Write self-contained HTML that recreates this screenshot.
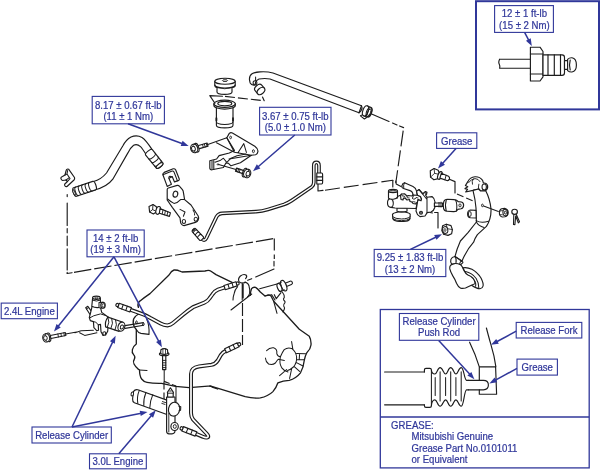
<!DOCTYPE html>
<html><head><meta charset="utf-8"><title>Clutch release system</title>
<style>
html,body{margin:0;padding:0;background:#fff;}
body{width:600px;height:470px;overflow:hidden;font-family:"Liberation Sans",sans-serif;}
svg{display:block;will-change:transform;font-family:"Liberation Sans",sans-serif;}
</style></head><body>
<svg width="600" height="470" viewBox="0 0 600 470">
<g>
<rect x="476" y="1.2" width="123" height="108.2" fill="none" stroke="#30379a" stroke-width="2"/>
<path d="M499.6,59.2 L530.4,59.2 M499.6,68.2 L530.4,68.2 M499.6,59.2 Q498.2,62 499.2,64 Q500.2,66 499.6,68.2" fill="none" stroke="#1c1c1c" stroke-width="1.15" stroke-linecap="round" stroke-linejoin="round" />
<path d="M530.4,47.2 L540,47.2 L543,51.5 L543,76.8 L540,81 L530.4,81 Z" fill="#fff" stroke="#1c1c1c" stroke-width="1.15" stroke-linecap="round" stroke-linejoin="round" />
<path d="M530.4,54 L543,54 M530.4,74 L543,74" fill="none" stroke="#1c1c1c" stroke-width="1.15" stroke-linecap="round" stroke-linejoin="round" />
<path d="M543,54.8 L562,54.8 Q564.5,54.8 564.5,57.5 L564.5,72.8 Q564.5,75.4 562,75.4 L543,75.4 Z" fill="#fff" stroke="#1c1c1c" stroke-width="1.15" stroke-linecap="round" stroke-linejoin="round" />
<path d="M548,54.8 V75.4 M554.3,54.8 V75.4 M560.5,54.8 V75.4" fill="none" stroke="#1c1c1c" stroke-width="1.15" stroke-linecap="round" stroke-linejoin="round" />
<path d="M564.5,60.6 H568 V69.4 H564.5 Z" fill="#fff" stroke="#1c1c1c" stroke-width="1.15" stroke-linecap="round" stroke-linejoin="round" />
<path d="M567.6,59.4 Q569.4,57.6 572,57.8 Q576.4,58.5 576.4,65 Q576.4,71.4 572,72 Q569.4,72.2 567.6,70.6 Z" fill="#fff" stroke="#1c1c1c" stroke-width="1.15" stroke-linecap="round" stroke-linejoin="round" />
<path d="M570.2,60 Q568.8,65 570.2,70" fill="none" stroke="#1c1c1c" stroke-width="1.15" stroke-linecap="round" stroke-linejoin="round" />
<rect x="380.3" y="309.5" width="208.9" height="158.4" fill="none" stroke="#30379a" stroke-width="1.3"/>
<line x1="380.3" y1="417" x2="589.2" y2="417" stroke="#30379a" stroke-width="1.3"/>
<text transform="translate(391.10 428.80) scale(0.95 1)" text-anchor="start" font-size="10.1" fill="#30379a" stroke="#30379a" stroke-width="0.22">GREASE:</text>
<text transform="translate(411.50 439.50) scale(0.95 1)" text-anchor="start" font-size="10.1" fill="#30379a" stroke="#30379a" stroke-width="0.22">Mitsubishi Genuine</text>
<text transform="translate(411.50 451.60) scale(0.95 1)" text-anchor="start" font-size="10.1" fill="#30379a" stroke="#30379a" stroke-width="0.22">Grease Part No.0101011</text>
<text transform="translate(411.50 462.70) scale(0.95 1)" text-anchor="start" font-size="10.1" fill="#30379a" stroke="#30379a" stroke-width="0.22">or Equivalent</text>
<path d="M384.6,372 H424.4 M384.6,404.8 H424.4" fill="none" stroke="#1c1c1c" stroke-width="1.15" stroke-linecap="round" stroke-linejoin="round" />
<path d="M424.4,372 V370.0 Q424.4,368.4 426,368.4 H429.8 Q431.4,368.4 431.4,370.0 Q431.8,374.0 434.9,374.0 C437.1,374.0 437.5,367.6 440.1,367.6 C442.7,367.6 443.4,374.0 445.6,374.0 C447.8,374.0 448.1,367.6 450.7,367.6 C453.3,367.6 453.7,374.0 455.9,374.0 C458.1,374.0 458.6,367.6 461.2,367.6 C464,367.6 464,379.4 466.6,380.4 L468.6,380.4" fill="none" stroke="#1c1c1c" stroke-width="1.15" stroke-linecap="round" stroke-linejoin="round" />
<path d="M424.4,404.8 V405.8 Q424.4,407.4 426,407.4 H429.8 Q431.4,407.4 431.4,405.8 Q431.8,399.8 434.9,399.8 C437.1,399.8 437.5,406.2 440.1,406.2 C442.7,406.2 443.4,399.8 445.6,399.8 C447.8,399.8 448.1,406.2 450.7,406.2 C453.3,406.2 453.7,399.8 455.9,399.8 C458.1,399.8 458.6,406.2 461.2,406.2 C464,406.2 464,390.8 466.6,389.8 L468.6,389.8" fill="none" stroke="#1c1c1c" stroke-width="1.15" stroke-linecap="round" stroke-linejoin="round" />
<path d="M431.4,370 V405.8 M435.2,377.4 V395.4 M440.1,371.8 V401 M445.6,377.4 V395.4 M450.7,371.8 V401 M455.9,377.4 V395.4 M461.2,371.8 V401" fill="none" stroke="#1c1c1c" stroke-width="1.03" stroke-linecap="round" stroke-linejoin="round" />
<path d="M468.6,380.4 H483.4 Q488.4,380.4 488.4,385.1 Q488.4,389.8 483.4,389.8 H468.6" fill="none" stroke="#1c1c1c" stroke-width="1.15" stroke-linecap="round" stroke-linejoin="round" />
<path d="M469.6,342.2 Q475.4,354 479.3,366.9 M486.4,328 Q489,338 490.8,344.2 Q494.4,356 495.9,366.9 M479.3,380.4 V366.9 H495.6 L496.6,394.2 H479.3 V389.8" fill="none" stroke="#1c1c1c" stroke-width="1.15" stroke-linecap="round" stroke-linejoin="round" />
<rect x="399.4" y="313.5" width="79.40" height="26.80" fill="#fff" stroke="#30379a" stroke-width="1.1"/>
<text transform="translate(439.10 324.90) scale(0.95 1)" text-anchor="middle" font-size="10.1" fill="#30379a" stroke="#30379a" stroke-width="0.22">Release Cylinder</text>
<text transform="translate(439.10 336.30) scale(0.95 1)" text-anchor="middle" font-size="10.1" fill="#30379a" stroke="#30379a" stroke-width="0.22">Push Rod</text>
<rect x="516.2" y="322.4" width="65.60" height="15.60" fill="#fff" stroke="#30379a" stroke-width="1.1"/>
<text transform="translate(549.00 334.30) scale(0.95 1)" text-anchor="middle" font-size="10.1" fill="#30379a" stroke="#30379a" stroke-width="0.22">Release Fork</text>
<rect x="517" y="359.1" width="40.40" height="16.00" fill="#fff" stroke="#30379a" stroke-width="1.1"/>
<text transform="translate(537.20 371.20) scale(0.95 1)" text-anchor="middle" font-size="10.1" fill="#30379a" stroke="#30379a" stroke-width="0.22">Grease</text>
<line x1="438.70" y1="340.50" x2="470.06" y2="374.50" stroke="#30379a" stroke-width="1.5"/>
<polygon points="474.40,379.20 467.40,375.59 471.37,371.93" fill="#30379a"/>
<line x1="516.20" y1="331.20" x2="496.63" y2="341.76" stroke="#30379a" stroke-width="1.5"/>
<polygon points="491.00,344.80 496.23,338.91 498.79,343.66" fill="#30379a"/>
<line x1="517.00" y1="368.40" x2="495.02" y2="380.34" stroke="#30379a" stroke-width="1.5"/>
<polygon points="489.40,383.40 494.61,377.49 497.19,382.24" fill="#30379a"/>
<path d="M371.6,114 L389,121.5" fill="none" stroke="#1c1c1c" stroke-width="1.15" stroke-linecap="round" stroke-linejoin="round" />
<path d="M392.5,123 L397,125 M399.5,126 L403.6,127.6" fill="none" stroke="#1c1c1c" stroke-width="1.15" stroke-linecap="round" stroke-linejoin="round" />
<path d="M403.2,130.6 L395.8,183" fill="none" stroke="#1c1c1c" stroke-width="1.15" stroke-dasharray="16 4"/>
<path d="M395.8,181 L396.2,184 L401,186.5" fill="none" stroke="#1c1c1c" stroke-width="1.15" stroke-linecap="round" stroke-linejoin="round" />
<path d="M318,184 V191 L323,190.4" fill="none" stroke="#1c1c1c" stroke-width="1.15" stroke-linecap="round" stroke-linejoin="round" />
<path d="M325,190.2 L392.8,180.2" fill="none" stroke="#1c1c1c" stroke-width="1.15" stroke-dasharray="15 4"/>
<path d="M392.8,180.2 V187" fill="none" stroke="#1c1c1c" stroke-width="1.15" stroke-linecap="round" stroke-linejoin="round" />
<path d="M67.2,194.6 V196.6 M67.2,203 V225.4 M67.2,228.6 V232.8 M67.2,236 V245.6 M67.2,248.8 V270 M67.2,272.2 V273.5" fill="none" stroke="#1c1c1c" stroke-width="1.15" stroke-linecap="round" stroke-linejoin="round" />
<path d="M67.2,273.5 L72,272.7" fill="none" stroke="#1c1c1c" stroke-width="1.15" stroke-linecap="round" stroke-linejoin="round" />
<path d="M74,272.35 L274.6,238.4" fill="none" stroke="#1c1c1c" stroke-width="1.15" stroke-dasharray="17.5 3"/>
<path d="M274.3,238.4 V259" fill="none" stroke="#1c1c1c" stroke-width="1.15" stroke-dasharray="12 4"/>
<path d="M274,261.4 V266 M274,269 L255.7,277" fill="none" stroke="#1c1c1c" stroke-width="1.15" stroke-linecap="round" stroke-linejoin="round" />
<path d="M251.7,278.7 L247.7,280.3" fill="none" stroke="#1c1c1c" stroke-width="1.15" stroke-linecap="round" stroke-linejoin="round" />
<path d="M242.2,283 V300 M243.2,284 V298" fill="none" stroke="#1c1c1c" stroke-width="1.03" stroke-linecap="round" stroke-linejoin="round" />
<path d="M242.5,303 V345" fill="none" stroke="#1c1c1c" stroke-width="1.15" stroke-dasharray="13 3"/>
<path d="M249.5,80 Q249,75.6 252.4,73.6 Q255.4,72.2 260,71.9 Q267,71.4 273,73 L361.5,105.8 L359,112.8 L270,79 Q265,78 259,79 Q256.4,80 255.6,82.4 L255,85 Q251.4,85.6 250.2,83 Z" fill="#fff" stroke="#1c1c1c" stroke-width="1.15" stroke-linecap="round" stroke-linejoin="round" />
<path d="M361.5,105.8 Q363.2,109.6 359,112.8" fill="none" stroke="#1c1c1c" stroke-width="1.15" stroke-linecap="round" stroke-linejoin="round" />
<ellipse cx="255" cy="82.8" rx="1.9" ry="2.1" fill="none" stroke="#1c1c1c" stroke-width="1.03" transform="rotate(0 255 82.8)"/>
<path d="M255.6,77 V80.6" fill="none" stroke="#1c1c1c" stroke-width="1.03" stroke-linecap="round" stroke-linejoin="round" />
<g transform="translate(261 91) rotate(50)">
<path d="M0,-4.3 H-4 A2.9,4.3 0 0 0 -4,4.3 H0 Z" fill="#fff" stroke="#1c1c1c" stroke-width="1.15" stroke-linecap="round" stroke-linejoin="round" />
<ellipse cx="0" cy="0" rx="2.9" ry="4.3" fill="#fff" stroke="#1c1c1c" stroke-width="1.15"/>
</g>
<path d="M360.4,115.8 L364.4,119 L366.6,117.6 L363,114.6 Z" fill="#fff" stroke="#1c1c1c" stroke-width="1.03" stroke-linecap="round" stroke-linejoin="round" />
<g transform="rotate(20 367 111.6)">
<path d="M365.4,106.2 H369 A2.6,5 0 0 1 369,116.6 H365.4 Z" fill="#fff" stroke="#1c1c1c" stroke-width="1.15" stroke-linecap="round" stroke-linejoin="round" />
<ellipse cx="365.4" cy="111.4" rx="2.7" ry="5.3" fill="#fff" stroke="#1c1c1c" stroke-width="1.15"/>
<ellipse cx="369" cy="111.4" rx="2.4" ry="4.6" fill="none" stroke="#1c1c1c" stroke-width="1"/>
<ellipse cx="369.2" cy="111.6" rx="1.5" ry="3.3" fill="none" stroke="#1c1c1c" stroke-width="0.9"/>
</g>
<path d="M93.5,181.5 Q101,179.6 106.5,173 L122.9,145.8 Q126,139.6 131,137 Q136.7,134.6 142,137.4 Q145.6,139.6 151.8,149.1 L146.7,155.4 Q142,148 140.5,146.6 Q137,143.4 133.6,145.2 Q130.6,147.4 127.9,152.9 L112.8,179.2 Q107,187 94.5,190 Z" fill="#fff" stroke="#1c1c1c" stroke-width="1.15" stroke-linecap="round" stroke-linejoin="round" />
<g transform="translate(94.20 185.60) rotate(161.40)">
<path d="M0,-4.5 L20.24,-4.50 A1.71,4.50 0 0 1 20.24,4.50 L0,4.5 A1.71,4.50 0 0 1 0,-4.5 Z" fill="#fff" stroke="#1c1c1c" stroke-width="1.15" stroke-linecap="round" stroke-linejoin="round" />
<path d="M3.61,-4.50 A1.71,4.50 0 0 1 3.61,4.50" fill="none" stroke="#1c1c1c" stroke-width="1.03" stroke-linecap="round" stroke-linejoin="round" />
<path d="M7.23,-4.50 A1.71,4.50 0 0 1 7.23,4.50" fill="none" stroke="#1c1c1c" stroke-width="1.03" stroke-linecap="round" stroke-linejoin="round" />
<path d="M10.84,-4.50 A1.71,4.50 0 0 1 10.84,4.50" fill="none" stroke="#1c1c1c" stroke-width="1.03" stroke-linecap="round" stroke-linejoin="round" />
<path d="M14.45,-4.50 A1.71,4.50 0 0 1 14.45,4.50" fill="none" stroke="#1c1c1c" stroke-width="1.03" stroke-linecap="round" stroke-linejoin="round" />
<path d="M18.07,-4.50 A1.71,4.50 0 0 1 18.07,4.50" fill="none" stroke="#1c1c1c" stroke-width="1.03" stroke-linecap="round" stroke-linejoin="round" />
<ellipse cx="21.26" cy="0" rx="0.94" ry="2.70" fill="#fff" stroke="#1c1c1c" stroke-width="1"/>
</g>
<g transform="translate(149.00 152.40) rotate(51.15)">
<path d="M0,-4.3 L16.86,-4.08 A1.63,4.08 0 0 1 16.86,4.08 L0,4.3 A1.63,4.30 0 0 1 0,-4.3 Z" fill="#fff" stroke="#1c1c1c" stroke-width="1.15" stroke-linecap="round" stroke-linejoin="round" />
<path d="M4.68,-4.24 A1.63,4.24 0 0 1 4.68,4.24" fill="none" stroke="#1c1c1c" stroke-width="1.03" stroke-linecap="round" stroke-linejoin="round" />
<path d="M9.37,-4.18 A1.63,4.18 0 0 1 9.37,4.18" fill="none" stroke="#1c1c1c" stroke-width="1.03" stroke-linecap="round" stroke-linejoin="round" />
<path d="M14.05,-4.12 A1.63,4.12 0 0 1 14.05,4.12" fill="none" stroke="#1c1c1c" stroke-width="1.03" stroke-linecap="round" stroke-linejoin="round" />
<ellipse cx="16.86" cy="0" rx="1.63" ry="4.08" fill="#fff" stroke="#1c1c1c" stroke-width="1.1"/>
</g>
<path d="M66.5,169.6 Q67.6,168.6 68.6,169.2 L74.5,177.5 Q75,179 74,180 L67,186.5 Q65.8,187 65,186 Q64.2,185 64.8,184 L67.5,181.5 L66,180 L62.5,180.5 Q61.2,180.2 60.8,178.2 Q61,177 62.5,176.5 L65,175 L66,171 Z" fill="#fff" stroke="#1c1c1c" stroke-width="1.15" stroke-linecap="round" stroke-linejoin="round" />
<path d="M65,175 L67,174 L70,178.6 L67.5,181.5 M66,180 L68.6,178.2 M67,174 L67.6,170.6" fill="none" stroke="#1c1c1c" stroke-width="1.03" stroke-linecap="round" stroke-linejoin="round" />
<g transform="translate(0.8 1.2)">
<path d="M162.1,173.6 Q161.8,172 163.4,171.2 L172.4,167.6 Q174,167.2 174.8,168.6 L178.4,177.6 Q178.8,179 177.4,179.4 L173.7,180.7 L171.5,175.6 L168.1,177 L170.6,183 L166.4,185.2 Z" fill="#fff" stroke="#1c1c1c" stroke-width="1.15" stroke-linecap="round" stroke-linejoin="round" />
<path d="M162.1,173.6 L171.4,169.8 Q172.6,169.6 173.2,170.8 L176.6,179.6 M168.1,177 Q167.6,175.6 169,175 L171.5,175.6" fill="none" stroke="#1c1c1c" stroke-width="1.03" stroke-linecap="round" stroke-linejoin="round" />
</g>
<path d="M199.5,236.4 L202.4,239.4 Q204.6,241.2 206.2,238.4 L216.6,216.6 Q218.4,213.6 222,213.4 L256,211.6 Q262,211.2 268,209.4 L284,204.4 Q288,203 291.6,200.6 L311.6,187 Q313.8,185.4 313.8,182.6 L313.8,165.6 Q313.8,162.4 316.4,162.4 Q319,162.4 319,165.6 L319,174" fill="none" stroke="#1c1c1c" stroke-width="3.7" stroke-linecap="round" stroke-linejoin="round"/>
<path d="M199.5,236.4 L202.4,239.4 Q204.6,241.2 206.2,238.4 L216.6,216.6 Q218.4,213.6 222,213.4 L256,211.6 Q262,211.2 268,209.4 L284,204.4 Q288,203 291.6,200.6 L311.6,187 Q313.8,185.4 313.8,182.6 L313.8,165.6 Q313.8,162.4 316.4,162.4 Q319,162.4 319,165.6 L319,174" fill="none" stroke="#fff" stroke-width="1.40" stroke-linecap="round" stroke-linejoin="round"/>
<g transform="translate(201.60 238.60) rotate(-132.40)">
<path d="M0,-2.5 L11.51,-2.25 A0.95,2.25 0 0 1 11.51,2.25 L0,2.5 A0.95,2.50 0 0 1 0,-2.5 Z" fill="#fff" stroke="#1c1c1c" stroke-width="1.15" stroke-linecap="round" stroke-linejoin="round" />
<path d="M3.20,-2.43 A0.95,2.43 0 0 1 3.20,2.43" fill="none" stroke="#1c1c1c" stroke-width="1.03" stroke-linecap="round" stroke-linejoin="round" />
<path d="M6.39,-2.36 A0.95,2.36 0 0 1 6.39,2.36" fill="none" stroke="#1c1c1c" stroke-width="1.03" stroke-linecap="round" stroke-linejoin="round" />
<path d="M9.59,-2.29 A0.95,2.29 0 0 1 9.59,2.29" fill="none" stroke="#1c1c1c" stroke-width="1.03" stroke-linecap="round" stroke-linejoin="round" />
<ellipse cx="12.08" cy="0" rx="0.52" ry="1.35" fill="#fff" stroke="#1c1c1c" stroke-width="1"/>
</g>
<path d="M316.8,173 H321.6 Q322.6,173 322.6,174.4 V182.6 Q322.6,184 321.6,184 H316.8 Z" fill="#fff" stroke="#1c1c1c" stroke-width="1.15" stroke-linecap="round" stroke-linejoin="round" />
<path d="M316.8,176.8 H322.6 M316.8,180.4 H322.6" fill="none" stroke="#1c1c1c" stroke-width="1.15" stroke-linecap="round" stroke-linejoin="round" />
<path d="M214.8,81.2 V85.4 Q214.8,87 217,87.6 V92 A7.5,2.4 0 0 0 232,92 V87.6 Q235.2,87 235.2,85.4 V81.2 Z" fill="#fff" stroke="#1c1c1c" stroke-width="1.15" stroke-linecap="round" stroke-linejoin="round" />
<path d="M214.8,85 A10.2,3 0 0 0 235.2,85" fill="none" stroke="#1c1c1c" stroke-width="1.15" stroke-linecap="round" stroke-linejoin="round" />
<path d="M217,87.6 Q225,90 232,87.6" fill="none" stroke="#1c1c1c" stroke-width="0.92" stroke-linecap="round" stroke-linejoin="round" />
<ellipse cx="225" cy="81.2" rx="10.2" ry="3" fill="#fff" stroke="#1c1c1c" stroke-width="1.15" transform="rotate(0 225 81.2)"/>
<ellipse cx="225" cy="80.6" rx="2.6" ry="0.9" fill="#fff" stroke="#1c1c1c" stroke-width="0.92" transform="rotate(0 225 80.6)"/>
<path d="M216.4,105 V125.2 A8.3,2.6 0 0 0 233,125.2 V105 Z" fill="#fff" stroke="#1c1c1c" stroke-width="1.15" stroke-linecap="round" stroke-linejoin="round" />
<path d="M216.4,121.8 A8.3,2.6 0 0 0 233,121.8" fill="none" stroke="#1c1c1c" stroke-width="1.03" stroke-linecap="round" stroke-linejoin="round" />
<path d="M213.9,103.8 V105.4 A10.7,3.7 0 0 0 235.3,105.4 V103.8 Z" fill="#fff" stroke="#1c1c1c" stroke-width="1.15" stroke-linecap="round" stroke-linejoin="round" />
<ellipse cx="224.6" cy="103.8" rx="10.7" ry="3.7" fill="#fff" stroke="#1c1c1c" stroke-width="1.15" transform="rotate(0 224.6 103.8)"/>
<ellipse cx="224.8" cy="103.6" rx="7" ry="2.2" fill="#fff" stroke="#1c1c1c" stroke-width="1.15" transform="rotate(0 224.8 103.6)"/>
<path d="M216.4,118.2 V120.4 M233,118.2 V120.4" fill="none" stroke="#1c1c1c" stroke-width="1.84" stroke-linecap="round" stroke-linejoin="round" />
<path d="M222.5,96.2 L209.8,95.6 L214.9,103.3" fill="none" stroke="#1c1c1c" stroke-width="1.15" stroke-linecap="round" stroke-linejoin="round" />
<path d="M225,96.4 L260.8,100.4" fill="none" stroke="#1c1c1c" stroke-width="1.15" stroke-dasharray="10 3"/>
<path d="M262.5,97 L264.2,100.7" fill="none" stroke="#1c1c1c" stroke-width="1.15" stroke-linecap="round" stroke-linejoin="round" />
<path d="M226.8,137.8 L229.3,133.4 Q230.6,132.2 232.4,133 L254.8,146.3 Q258.4,149 257.9,151.6 Q257.6,154 255.6,154.8 L251.4,155.3 L240.4,162.8 L231,165.8 L228.5,163.3 L225.9,162.9 L223.4,167.5 L212,169.8 Q209.8,169.8 209.8,168 V160.8 L216.6,159 L219.1,155.6 L229.3,153 L234.4,150.4 Z" fill="#fff" stroke="#1c1c1c" stroke-width="1.15" stroke-linecap="round" stroke-linejoin="round" />
<path d="M216.5,142.8 L234.4,152.2 M226.8,137.8 L234.4,152.2 M237.8,153 L243.8,143.6 L246.4,152.4 M234.4,152.2 L251.4,155.3 M229,159 L250,155.4 M212,161 V168.6 M213.8,160.4 V169.2" fill="none" stroke="#1c1c1c" stroke-width="1.03" stroke-linecap="round" stroke-linejoin="round" />
<path d="M215,162.2 L220,160.6 L223.4,158.2 L226.8,162.4 L231,158.2 L237,155.8 L246,154" fill="none" stroke="#1c1c1c" stroke-width="1.03" stroke-linecap="round" stroke-linejoin="round" />
<ellipse cx="230.6" cy="137.4" rx="0.9" ry="1.3" fill="none" stroke="#1c1c1c" stroke-width="0.92" transform="rotate(0 230.6 137.4)"/>
<ellipse cx="253.4" cy="151.2" rx="1" ry="1.5" fill="none" stroke="#1c1c1c" stroke-width="0.92" transform="rotate(0 253.4 151.2)"/>
<path d="M206.4,145 L226.8,137.8 M218.6,164.6 L236,169.6" fill="none" stroke="#1c1c1c" stroke-width="1.03" stroke-linecap="round" stroke-linejoin="round" />
<ellipse cx="218" cy="164.4" rx="0.9" ry="0.6" fill="none" stroke="#1c1c1c" stroke-width="0.8" transform="rotate(0 218 164.4)"/>
<path d="M197.80,149.09 L208.04,146.14 L207.16,143.06 L196.92,146.01 Z" fill="#fff" stroke="#1c1c1c" stroke-width="1.15" stroke-linecap="round" stroke-linejoin="round" />
<path d="M203.35,147.49 L202.46,144.41" fill="none" stroke="#1c1c1c" stroke-width="0.92" stroke-linecap="round" stroke-linejoin="round" />
<path d="M205.23,146.95 L204.34,143.87" fill="none" stroke="#1c1c1c" stroke-width="0.92" stroke-linecap="round" stroke-linejoin="round" />
<path d="M207.10,146.41 L206.22,143.33" fill="none" stroke="#1c1c1c" stroke-width="0.92" stroke-linecap="round" stroke-linejoin="round" />
<ellipse cx="196.72555365192912" cy="147.73052243353555" rx="1.9800000000000002" ry="4.488" fill="#fff" stroke="#1c1c1c" stroke-width="1.15" transform="rotate(-16.0599873071607 196.72555365192912 147.73052243353555)"/>
<ellipse cx="194.20780548331166" cy="148.4553287245012" rx="3.5200000000000005" ry="4.312" fill="#fff" stroke="#1c1c1c" stroke-width="1.15" transform="rotate(-16.0599873071607 194.20780548331166 148.4553287245012)"/>
<ellipse cx="193.43902741655822" cy="148.67664362250596" rx="1.848" ry="2.4200000000000004" fill="#fff" stroke="#1c1c1c" stroke-width="0.92" transform="rotate(-16.0599873071607 193.43902741655822 148.67664362250596)"/>
<path d="M193.24,144.38 L192.83,146.56 M195.56,152.42 L194.05,150.79" fill="none" stroke="#1c1c1c" stroke-width="0.8" stroke-linecap="round" stroke-linejoin="round" />
<path d="M244.61,170.88 L236.52,168.09 L235.48,171.11 L243.57,173.91 Z" fill="#fff" stroke="#1c1c1c" stroke-width="1.15" stroke-linecap="round" stroke-linejoin="round" />
<path d="M240.23,169.37 L239.18,172.39" fill="none" stroke="#1c1c1c" stroke-width="0.92" stroke-linecap="round" stroke-linejoin="round" />
<path d="M238.75,168.86 L237.70,171.88" fill="none" stroke="#1c1c1c" stroke-width="0.92" stroke-linecap="round" stroke-linejoin="round" />
<path d="M237.26,168.34 L236.22,171.37" fill="none" stroke="#1c1c1c" stroke-width="0.92" stroke-linecap="round" stroke-linejoin="round" />
<ellipse cx="244.71263970276738" cy="172.60982098822873" rx="1.9800000000000002" ry="4.488" fill="#fff" stroke="#1c1c1c" stroke-width="1.15" transform="rotate(-160.94229548987164 244.71263970276738 172.60982098822873)"/>
<ellipse cx="247.1890380410936" cy="173.4653040505596" rx="3.5200000000000005" ry="4.312" fill="#fff" stroke="#1c1c1c" stroke-width="1.15" transform="rotate(-160.94229548987164 247.1890380410936 173.4653040505596)"/>
<ellipse cx="247.94519020546804" cy="173.72652025279805" rx="1.848" ry="2.4200000000000004" fill="#fff" stroke="#1c1c1c" stroke-width="0.92" transform="rotate(-160.94229548987164 247.94519020546804 173.72652025279805)"/>
<path d="M245.64,177.35 L247.23,175.81 M248.36,169.45 L248.66,171.65" fill="none" stroke="#1c1c1c" stroke-width="0.8" stroke-linecap="round" stroke-linejoin="round" />
<path d="M167.2,189.4 Q167.2,188.4 168.4,188 L177.2,185.4 Q178.6,185.2 179.6,186.4 L182.4,189.6 Q183.4,190.8 183.4,192.4 L184.6,199.6 L191,205 L198.2,216 Q199.2,218 198.2,220 Q197.4,221.8 195.4,222.4 L184,225.6 Q182.2,225.6 181.2,223.8 L180.6,222.4 L180,217.8 L172.3,207.3 L167.2,200 Z" fill="#fff" stroke="#1c1c1c" stroke-width="1.15" stroke-linecap="round" stroke-linejoin="round" />
<ellipse cx="175.4" cy="194.2" rx="2.3" ry="3" fill="none" stroke="#1c1c1c" stroke-width="1.15" transform="rotate(15 175.4 194.2)"/>
<ellipse cx="183.9" cy="221.6" rx="1.7" ry="2" fill="none" stroke="#1c1c1c" stroke-width="1.03" transform="rotate(0 183.9 221.6)"/>
<ellipse cx="195.8" cy="219.2" rx="1.7" ry="2" fill="none" stroke="#1c1c1c" stroke-width="1.03" transform="rotate(0 195.8 219.2)"/>
<path d="M167.6,199 Q171,202 174,203.4 Q178,202.6 180.6,199.6 L184.6,199.6 M180,209.4 L185,212 L183.4,216.2 M193,210 Q195,212.6 194.6,215" fill="none" stroke="#1c1c1c" stroke-width="1.03" stroke-linecap="round" stroke-linejoin="round" />
<path d="M149,206.4 L153,204.6 L156.4,206.8 L156.8,211.6 L153.4,214 L149.6,212 Z" fill="#fff" stroke="#1c1c1c" stroke-width="1.15" stroke-linecap="round" stroke-linejoin="round" />
<path d="M153,204.6 L152.6,209.6 L149.6,212 M152.6,209.6 L156.8,211.6" fill="none" stroke="#1c1c1c" stroke-width="0.92" stroke-linecap="round" stroke-linejoin="round" />
<ellipse cx="158.2" cy="210.4" rx="2.2" ry="4" fill="#fff" stroke="#1c1c1c" stroke-width="1.15" transform="rotate(15 158.2 210.4)"/>
<path d="M160,208.6 L170.4,212.8 L169.4,216.4 L159.4,213.2 Z" fill="#fff" stroke="#1c1c1c" stroke-width="1.15" stroke-linecap="round" stroke-linejoin="round" />
<path d="M163,209.8 L162.2,214 M165.4,210.8 L164.6,214.8 M167.8,211.8 L167,215.6" fill="none" stroke="#1c1c1c" stroke-width="0.92" stroke-linecap="round" stroke-linejoin="round" />
<path d="M392.5,214.2 L392.8,218.5 Q393.5,220.5 397.0,221.2 Q401.5,221.8 406.0,221.2 Q409.5,220.5 410.0,218.5 L410.2,214.2 Q408.0,212.0 401.5,211.8 Q395.0,212.0 392.5,214.2 Z" fill="#fff" stroke="#1c1c1c" stroke-width="1.15" stroke-linecap="round" stroke-linejoin="round" />
<path d="M392.7,216.8 Q395.0,218.8 401.5,219.0 Q408.0,218.8 410.1,216.8 M392.9,218.8 Q396.0,220.6 401.5,220.7 Q407.0,220.6 409.9,218.8" fill="none" stroke="#1c1c1c" stroke-width="0.98" stroke-linecap="round" stroke-linejoin="round" />
<path d="M397.0,208.0 L397.0,211.2 Q401.5,212.5 407.0,211.2 L407.0,208.0 Z" fill="#fff" stroke="#1c1c1c" stroke-width="1.15" stroke-linecap="round" stroke-linejoin="round" />
<path d="M390.5,198.5 Q387.5,199.0 387.5,203.0 Q387.5,207.0 391.0,207.4 L395.0,208.0 L416.0,208.5 L417.5,202.0 L400.5,195.2 L397.5,196.5 L397.5,198.0 Z" fill="#fff" stroke="#1c1c1c" stroke-width="1.15" stroke-linecap="round" stroke-linejoin="round" />
<path d="M390.5,198.5 Q393.3,199.5 393.3,203.0 Q393.3,206.8 391.0,207.4" fill="none" stroke="#1c1c1c" stroke-width="1.03" stroke-linecap="round" stroke-linejoin="round" />
<path d="M388.5,191.0 L388.5,198.3 Q390.5,199.5 393.3,199.2 Q396.5,198.8 397.5,197.0 L397.5,191.0 Z" fill="#fff" stroke="#1c1c1c" stroke-width="1.15" stroke-linecap="round" stroke-linejoin="round" />
<ellipse cx="393" cy="191" rx="4.5" ry="1.6" fill="#fff" stroke="#1c1c1c" stroke-width="1.15" transform="rotate(0 393 191)"/>
<ellipse cx="393" cy="191.2" rx="3.4" ry="1.0" fill="none" stroke="#1c1c1c" stroke-width="0.92" transform="rotate(0 393 191.2)"/>
<path d="M402.0,185.5 Q402.5,183.0 404.5,182.7 L413.0,186.5 Q416.0,188.0 416.5,191.0 L417.2,195.2 L413.2,195.6 L412.6,193.0 Q412.0,191.2 410.0,190.6 L403.5,188.5 Q401.3,187.7 402.0,185.5 Z" fill="#fff" stroke="#1c1c1c" stroke-width="1.15" stroke-linecap="round" stroke-linejoin="round" />
<path d="M404.5,182.7 Q403.0,184.5 403.7,188.5" fill="none" stroke="#1c1c1c" stroke-width="0.98" stroke-linecap="round" stroke-linejoin="round" />
<path d="M400.5,195.2 L401.5,194.0 L404.5,193.8 L407.0,196.0 L408.5,195.5 L412.0,196.0 L413.0,195.0 L417.5,195.2 L420.5,196.5 L421.5,199.0 L421.0,200.8 L418.0,199.8 L417.5,202.0 L415.5,204.0 L413.0,203.5 L412.0,202.0 L410.0,201.5 L409.5,199.5 L407.0,200.0 L405.5,198.5 L403.5,198.0 L403.0,200.0 L401.0,199.5 Z" fill="#fff" stroke="#1c1c1c" stroke-width="1.15" stroke-linecap="round" stroke-linejoin="round" />
<path d="M401.5,194.0 L402.0,195.8 L404.5,196.2 L405.2,198.0 M407.0,196.0 L407.3,197.8 L409.2,198.0 M413.0,195.0 L413.2,197.2 L412.0,198.0 Q413.0,199.5 415.0,199.0 L416.0,197.5 L418.0,198.0 M412.0,202.0 Q413.5,201.2 415.2,202.0" fill="none" stroke="#1c1c1c" stroke-width="0.92" stroke-linecap="round" stroke-linejoin="round" />
<path d="M416.5,191.2 L419.0,189.5 L423.0,194.0 L423.8,192.8 L425.5,191.5 L427.0,192.2 L426.6,194.2 L425.5,195.0 L427.0,197.2 L432.0,196.6 Q434.8,198.5 435.0,202.0 L434.8,207.5 Q434.0,210.5 431.0,212.0 L427.2,212.6 L425.0,216.0 L420.0,216.6 L417.5,214.6 L416.0,211.0 L417.5,202.0 L418.0,199.5 L421.0,200.8 L421.5,199.0 L420.5,196.5 L417.5,195.2 Z" fill="#fff" stroke="#1c1c1c" stroke-width="1.15" stroke-linecap="round" stroke-linejoin="round" />
<path d="M419.0,189.5 L427.0,199.5 L427.0,212.5 M427.0,199.5 L427.0,197.2" fill="none" stroke="#1c1c1c" stroke-width="1.03" stroke-linecap="round" stroke-linejoin="round" />
<ellipse cx="421" cy="212.8" rx="1.5" ry="1.5" fill="none" stroke="#1c1c1c" stroke-width="1.03" transform="rotate(0 421 212.8)"/>
<ellipse cx="421" cy="212.8" rx="0.7" ry="0.7" fill="none" stroke="#1c1c1c" stroke-width="0.8" transform="rotate(0 421 212.8)"/>
<ellipse cx="425.6" cy="193" rx="0.8" ry="0.8" fill="none" stroke="#1c1c1c" stroke-width="0.8" transform="rotate(0 425.6 193)"/>
<path d="M430.0,212.5 L432.5,213.0" fill="none" stroke="#1c1c1c" stroke-width="1.03" stroke-linecap="round" stroke-linejoin="round" />
<path d="M434.4,203 H442.6 V206.4 H434.4 Z" fill="#fff" stroke="#1c1c1c" stroke-width="1.15" stroke-linecap="round" stroke-linejoin="round" />
<path d="M439,202.4 V207 M441,202.2 V207.2" fill="none" stroke="#1c1c1c" stroke-width="0.92" stroke-linecap="round" stroke-linejoin="round" />
<path d="M443.8,201.6 Q444.6,199.2 447.4,199.2 L454,199.6 Q457.2,199.8 458.2,201.6 L461.4,202 Q463.8,202.8 463.6,205.4 Q463.4,208.2 461,208.8 L457.8,209.4 Q456.6,211.8 453.4,211.6 L447,211.2 Q444.2,211 443.6,208.6 Q442.8,204.8 443.8,201.6 Z" fill="#fff" stroke="#1c1c1c" stroke-width="1.15" stroke-linecap="round" stroke-linejoin="round" />
<path d="M446.4,199.6 Q444.6,204.8 446.2,210.8 M455.6,200 Q457.6,204.6 456.4,210.8" fill="none" stroke="#1c1c1c" stroke-width="1.03" stroke-linecap="round" stroke-linejoin="round" />
<ellipse cx="460" cy="205.4" rx="1.1" ry="1.5" fill="none" stroke="#1c1c1c" stroke-width="0.92" transform="rotate(0 460 205.4)"/>
<path d="M434.6,212.5 H438 V228" fill="none" stroke="#1c1c1c" stroke-width="1.15" stroke-linecap="round" stroke-linejoin="round" />
<g transform="translate(-1.0 1.2)">
<path d="M443.6,224.6 L447.4,223 L452,224.4 L453.4,228.4 L452.6,232.6 L449,234.2 L444.6,233 L442.8,229.4 Z" fill="#fff" stroke="#1c1c1c" stroke-width="1.15" stroke-linecap="round" stroke-linejoin="round" />
<path d="M447.4,223 L448,227.4 L453.4,228.4 M448,227.4 L444.6,233" fill="none" stroke="#1c1c1c" stroke-width="0.8" stroke-linecap="round" stroke-linejoin="round" />
<ellipse cx="446.2" cy="228.8" rx="2.6" ry="3.4" fill="#fff" stroke="#1c1c1c" stroke-width="1.03" transform="rotate(-10 446.2 228.8)"/>
<ellipse cx="446" cy="228.8" rx="1" ry="1.4" fill="none" stroke="#1c1c1c" stroke-width="0.8" transform="rotate(-10 446 228.8)"/>
</g>
<g transform="translate(437 175) scale(1.2) translate(-437 -175)">
<path d="M431.4,171.4 L434.6,169.6 L438,171 L439.4,174.6 L438,178 L434.4,179 L431.6,176.8 Z" fill="#fff" stroke="#1c1c1c" stroke-width="0.98" stroke-linecap="round" stroke-linejoin="round" />
<path d="M434.6,169.6 L435,173.6 L439.4,174.6 M435,173.6 L431.6,176.8" fill="none" stroke="#1c1c1c" stroke-width="0.69" stroke-linecap="round" stroke-linejoin="round" />
<ellipse cx="439.4" cy="175.4" rx="1.6" ry="3.4" fill="#fff" stroke="#1c1c1c" stroke-width="0.98" transform="rotate(20 439.4 175.4)"/>
<path d="M440.6,173.6 L446.6,176 Q447.8,176.8 447.4,178.4 Q446.8,180 445.2,179.6 L439.4,177.6 Z" fill="#fff" stroke="#1c1c1c" stroke-width="0.98" stroke-linecap="round" stroke-linejoin="round" />
<path d="M444.6,175.2 L443.6,179" fill="none" stroke="#1c1c1c" stroke-width="0.8" stroke-linecap="round" stroke-linejoin="round" />
</g>
<path d="M449.4,179.2 L455,181.6 V193" fill="none" stroke="#1c1c1c" stroke-width="1.15" stroke-linecap="round" stroke-linejoin="round" />
<path d="M457,194 L475.6,202" fill="none" stroke="#1c1c1c" stroke-width="1.15" stroke-dasharray="7 3"/>
<path d="M465.4,185.6 L468,181.4 Q470,177.2 475,176.8 Q480,176.6 482.6,180.4 L483.4,183 Q486.6,182.6 487.6,185.6 Q488.2,188.8 485.6,190.6 L480.6,191 L478.6,189 L473,190.4 L465.6,192 L467.6,189.4 L465,188.6 L467.8,186.8 Z" fill="#fff" stroke="#1c1c1c" stroke-width="1.15" stroke-linecap="round" stroke-linejoin="round" />
<path d="M468.6,182.6 Q471,179 475,178.6 Q478.4,178.6 480,181.6 M473.4,178.8 Q471.4,181 472.4,184.2" fill="none" stroke="#1c1c1c" stroke-width="0.92" stroke-linecap="round" stroke-linejoin="round" />
<ellipse cx="484.2" cy="187" rx="2.2" ry="3" fill="#fff" stroke="#1c1c1c" stroke-width="1.03" transform="rotate(0 484.2 187)"/>
<path d="M478.8,184.2 Q478,187 478.8,189.6" fill="none" stroke="#1c1c1c" stroke-width="0.92" stroke-linecap="round" stroke-linejoin="round" />
<path d="M473,190.4 Q475.4,200 476,208 L476.4,222 L468,232.6 L460.4,241 Q456.4,250 455,256.6 L462,261 Q466.6,250 473.6,242.2 Q475,238 477.4,234.6 L486.4,226.4 Q491.4,218.4 491,209 Q490,199 485.6,190.6 L480.6,191 L478.6,189 Z" fill="#fff" stroke="#1c1c1c" stroke-width="1.15" stroke-linecap="round" stroke-linejoin="round" />
<path d="M476.2,220.6 Q481,223.4 488.6,221.2 M476.4,222 Q478.4,226 484,227.4" fill="none" stroke="#1c1c1c" stroke-width="1.03" stroke-linecap="round" stroke-linejoin="round" />
<ellipse cx="482.4" cy="205.4" rx="0.9" ry="1.3" fill="none" stroke="#1c1c1c" stroke-width="0.92" transform="rotate(0 482.4 205.4)"/>
<path d="M476,210.4 L470.4,210 Q467.6,210.4 467.6,214 Q467.6,217.4 470.4,217.8 L476.2,218 Z" fill="#fff" stroke="#1c1c1c" stroke-width="1.15" stroke-linecap="round" stroke-linejoin="round" />
<ellipse cx="469.8" cy="214" rx="1.4" ry="2.6" fill="none" stroke="#1c1c1c" stroke-width="0.92" transform="rotate(0 469.8 214)"/>
<path d="M462.9,267.9 Q466.6,266.8 471.9,269.3 Q477.2,272.1 481.0,278.0 Q483.6,283.3 483.1,286.0 Q482.6,288.4 479.9,288.8 Q476.7,288.6 471.9,285.4 L466.6,274.8 Z" fill="#fff" stroke="#1c1c1c" stroke-width="1.15" stroke-linecap="round" stroke-linejoin="round" />
<path d="M465.5,271.6 Q471.9,272.9 476.2,278.5 Q478.8,282.8 478.8,287.8 M466.6,274.8 Q471.9,276.4 474.9,281.2 Q476.2,283.8 475.6,286.3" fill="none" stroke="#1c1c1c" stroke-width="1.03" stroke-linecap="round" stroke-linejoin="round" />
<path d="M450.6,265.2 Q449.4,266.8 449.8,268.9 Q450.4,271.6 452.8,275.9 Q454.9,279.0 456.5,283.3 Q458.1,287.0 460.7,288.2 Q462.9,288.6 465.5,288.0 L471.9,285.0 Q474.6,284.1 475.1,283.5 Q475.3,281.7 473.2,278.5 Q470.9,275.9 467.9,275.0 Q465.5,273.7 463.9,270.5 Q462.6,266.8 460.7,264.7 Q458.6,262.9 456.0,263.1 Q452.8,263.7 450.6,265.2 Z" fill="#fff" stroke="#1c1c1c" stroke-width="1.15" stroke-linecap="round" stroke-linejoin="round" />
<path d="M454.9,256.5 Q451.9,256.9 450.9,259.4 Q450.1,262.0 451.7,264.1 Q456.0,262.6 460.7,264.7 L462.9,262.6 Q463.2,261.8 461.8,261.2 Z" fill="#fff" stroke="#1c1c1c" stroke-width="1.15" stroke-linecap="round" stroke-linejoin="round" />
<path d="M454.9,256.5 Q456.8,258.8 456.0,262.9 M461.8,261.2 Q460.2,261.0 459.7,263.9" fill="none" stroke="#1c1c1c" stroke-width="1.03" stroke-linecap="round" stroke-linejoin="round" />
<path d="M483.6,206 L498.4,211.4" fill="none" stroke="#1c1c1c" stroke-width="1.03" stroke-linecap="round" stroke-linejoin="round" />
<path d="M501.6,208.8 L504.6,208.4 Q508.2,209.2 508.2,212.6 Q508,216 505,216.8 L502.2,217 Q499.2,216.2 499.4,212.6 Q499.6,209.4 501.6,208.8 Z" fill="#fff" stroke="#1c1c1c" stroke-width="1.15" stroke-linecap="round" stroke-linejoin="round" />
<ellipse cx="505.2" cy="212.6" rx="2.3" ry="3.3" fill="none" stroke="#1c1c1c" stroke-width="1.03" transform="rotate(-5 505.2 212.6)"/>
<ellipse cx="505.4" cy="212.6" rx="1" ry="1.5" fill="none" stroke="#1c1c1c" stroke-width="0.92" transform="rotate(-5 505.4 212.6)"/>
<path d="M499.6,211 L502.4,210.6 M499.6,214.6 L502.4,214.8" fill="none" stroke="#1c1c1c" stroke-width="0.8" stroke-linecap="round" stroke-linejoin="round" />
<ellipse cx="514.6" cy="211.8" rx="2.8" ry="2.6" fill="none" stroke="#1c1c1c" stroke-width="1.15" transform="rotate(0 514.6 211.8)"/>
<path d="M513.8,214.4 L513.5,224.4 L514.9,224.6 L515.7,216 M516.2,214.2 L519.5,221.8 L518.3,222.8 L515.7,216" fill="none" stroke="#1c1c1c" stroke-width="1.09" stroke-linecap="round" stroke-linejoin="round" />
<path d="M139.4,301.4 Q145,297 150,293.6 L169,275 Q171.4,270.8 174,270 Q177.6,269.8 180,271.2 L182,272 L205,271 Q209,269.8 211,271.2 L216,274.6 L232,282.4" fill="none" stroke="#1c1c1c" stroke-width="1.32" stroke-linecap="round" stroke-linejoin="round" />
<path d="M139.4,301.4 Q137,304 138.4,307.4 M140.5,313 Q135.6,315 133.6,319 Q132.4,323.6 134.4,327 Q135.4,328.6 136.3,329.4 L136.3,344 Q133,346.4 132.4,349.6 Q131.6,352.6 133.6,354.6 Q135.6,356.6 134.4,359 Q132.6,361.6 134,364 Q135.4,366.6 137.6,368.6 L139.5,370 Q139.6,376 141.6,379 Q144,382 147,382.4 Q153,383.6 161.6,383.4 L175.4,386.4 L189.2,387.7 L208,386.2 Q211,386 213,387.4 L217.6,389" fill="none" stroke="#1c1c1c" stroke-width="1.32" stroke-linecap="round" stroke-linejoin="round" />
<path d="M136.3,329.4 Q138,332.6 141,333.4 L149,334.4 M139.5,370 L147,370.5 M146.8,319.4 Q149.6,326 149,334.4" fill="none" stroke="#1c1c1c" stroke-width="1.09" stroke-linecap="round" stroke-linejoin="round" />
<path d="M210,385.8 L245.2,396.6 Q253,398.6 260.3,397.9 Q268,396.4 272.9,391.6 Q276.4,387.6 277.9,382.8 Q283,380.4 289.2,380.3 Q296,378.4 300.5,372.8 Q303.6,367 304.3,360.2 Q305,356 306.8,352.7 Q310.6,349 311,345 Q311.4,340 309.3,336.3 Q306,334 299.3,329.3 L273.7,301.3 L271,296 Q269,294.6 267.7,295 L265,296 L260.3,292 Q257.6,288.6 255.6,287.4 Q253,286.8 251.6,288.6 Q250.6,291 250.3,295.3" fill="none" stroke="#1c1c1c" stroke-width="1.32" stroke-linecap="round" stroke-linejoin="round" />
<ellipse cx="136.4" cy="322.3" rx="0.8" ry="1.4" fill="none" stroke="#1c1c1c" stroke-width="0.92" transform="rotate(10 136.4 322.3)"/>
<ellipse cx="143.4" cy="324.2" rx="0.8" ry="1.2" fill="none" stroke="#1c1c1c" stroke-width="0.92" transform="rotate(10 143.4 324.2)"/>
<path d="M259.7,288.7 L277,284 M265,296 L271.7,294.7 L275,300 M274.3,294.7 L276.3,298.7 L281,292.7" fill="none" stroke="#1c1c1c" stroke-width="1.15" stroke-linecap="round" stroke-linejoin="round" />
<path d="M282.3,292 Q284.6,295 284.3,297.3 Q283,299 283.7,300 Q285.6,301.6 285,302.7 Q283.2,304.6 283.7,306 Q285,308 284.3,309.3 L283,312 M273.7,301.3 L277,313.3" fill="none" stroke="#1c1c1c" stroke-width="1.09" stroke-linecap="round" stroke-linejoin="round" />
<g transform="rotate(-22 283 286)">
<path d="M286,284.2 H291.4 Q293,284.2 293,286 Q293,287.8 291.4,287.8 H286 Z" fill="#fff" stroke="#1c1c1c" stroke-width="1.15" stroke-linecap="round" stroke-linejoin="round" />
<ellipse cx="283.8" cy="286" rx="2.5" ry="5.6" fill="#fff" stroke="#1c1c1c" stroke-width="1.15" transform="rotate(0 283.8 286)"/>
<ellipse cx="279.2" cy="286" rx="2" ry="4.2" fill="#fff" stroke="#1c1c1c" stroke-width="1.15" transform="rotate(0 279.2 286)"/>
<path d="M279.2,281.8 H283 M279.2,290.2 H283" fill="none" stroke="#1c1c1c" stroke-width="1.03" stroke-linecap="round" stroke-linejoin="round" />
</g>
<path d="M245.4,282.4 Q241.4,284 239,281.6 Q237.6,278.6 240.4,276 Q243.6,273.6 246,275 Q247.6,276.6 245.6,278.6" fill="none" stroke="#1c1c1c" stroke-width="1.15" stroke-linecap="round" stroke-linejoin="round" />
<path d="M245,282 Q248.6,283.4 249,286 Q250.2,290 249.6,293.4 Q248.8,296 247.6,296.8 M237.6,286.6 Q234.6,290 234.2,293.4 Q233,297 233,300" fill="none" stroke="#1c1c1c" stroke-width="1.09" stroke-linecap="round" stroke-linejoin="round" />
<path d="M231,310 L251.7,294" fill="none" stroke="#1c1c1c" stroke-width="1.09" stroke-linecap="round" stroke-linejoin="round" />
<path d="M266.6,350.6 Q269.6,347.4 273.6,347.8 Q277.4,349 276.8,353.6 Q277.6,356.4 280.4,356.8 Q282.4,352 284.2,349.6 Q287.6,347 291.6,348.4 Q296,351.6 296.6,357 Q297,363 293.4,367 Q290.4,369.6 287.6,370.6 M265.4,358 Q265.6,361.6 268.6,364 Q272.6,365.2 275.4,363 Q277,360.6 278.4,359.2 L284.4,360.4 M280.4,356.8 Q279,363 281.6,367.6 Q284,371 288,372 M291.6,341.6 L292.8,348.8 M296.6,353.6 L305.6,353.8 M296.8,359.6 L304.4,359.8 M299.6,353.8 L299.2,359.6 M279.6,375.6 L286.6,369.6 M289.6,378.4 L291.6,369 M294,366.4 L299.6,371.4 M296,362.4 L303,366" fill="none" stroke="#1c1c1c" stroke-width="1.03" stroke-linecap="round" stroke-linejoin="round" />
<path d="M130.2,309.7 L144,314.7 Q147,316 150,317.8 L160.6,323.6 Q164,325.4 167.4,325.4 Q170.6,325 173,323 L183,314.7 Q188,310.4 193,307.2 L204.4,302.6 Q207.6,301.4 209.6,298.2 L212.4,294.4 Q214.6,291 218,289.6 L224.8,287.4" fill="none" stroke="#1c1c1c" stroke-width="4.0" stroke-linecap="round" stroke-linejoin="round"/>
<path d="M130.2,309.7 L144,314.7 Q147,316 150,317.8 L160.6,323.6 Q164,325.4 167.4,325.4 Q170.6,325 173,323 L183,314.7 Q188,310.4 193,307.2 L204.4,302.6 Q207.6,301.4 209.6,298.2 L212.4,294.4 Q214.6,291 218,289.6 L224.8,287.4" fill="none" stroke="#fff" stroke-width="1.70" stroke-linecap="round" stroke-linejoin="round"/>
<path d="M225.6,350.9 Q222.4,352.4 220.6,355.4 L217.8,360.4 Q215.6,364 211.4,364.8 L199,366.4 Q191,367.6 191,374 L191,413 Q191,416.4 193,419.4 L206.6,433.6 Q209.4,436.6 207.4,437.4 Q205.6,438 203,436.8 L196,433.8" fill="none" stroke="#1c1c1c" stroke-width="4.0" stroke-linecap="round" stroke-linejoin="round"/>
<path d="M225.6,350.9 Q222.4,352.4 220.6,355.4 L217.8,360.4 Q215.6,364 211.4,364.8 L199,366.4 Q191,367.6 191,374 L191,413 Q191,416.4 193,419.4 L206.6,433.6 Q209.4,436.6 207.4,437.4 Q205.6,438 203,436.8 L196,433.8" fill="none" stroke="#fff" stroke-width="1.70" stroke-linecap="round" stroke-linejoin="round"/>
<path d="M117.62,307.56 L129.82,311.96 L131.38,307.64 L119.18,303.24 Z" fill="#fff" stroke="#1c1c1c" stroke-width="1.15" stroke-linecap="round" stroke-linejoin="round" />
<path d="M121.69,309.03 L123.25,304.70" fill="none" stroke="#1c1c1c" stroke-width="1.03" stroke-linecap="round" stroke-linejoin="round" />
<path d="M125.75,310.50 L127.31,306.17" fill="none" stroke="#1c1c1c" stroke-width="1.03" stroke-linecap="round" stroke-linejoin="round" />
<ellipse cx="117.27117120032425" cy="304.99288141651033" rx="1.4" ry="1.656" fill="#fff" stroke="#1c1c1c" stroke-width="1.15" transform="rotate(19.832129850218546 117.27117120032425 304.99288141651033)"/>
<path d="M235.94,281.70 L223.94,285.50 L225.26,289.70 L237.26,285.90 Z" fill="#fff" stroke="#1c1c1c" stroke-width="1.15" stroke-linecap="round" stroke-linejoin="round" />
<path d="M231.94,282.97 L233.26,287.16" fill="none" stroke="#1c1c1c" stroke-width="1.03" stroke-linecap="round" stroke-linejoin="round" />
<path d="M227.94,284.24 L229.26,288.43" fill="none" stroke="#1c1c1c" stroke-width="1.03" stroke-linecap="round" stroke-linejoin="round" />
<ellipse cx="237.7440106704209" cy="283.4377299543667" rx="1.4" ry="1.584" fill="#fff" stroke="#1c1c1c" stroke-width="1.15" transform="rotate(162.42874122167754 237.7440106704209 283.4377299543667)"/>
<path d="M237.25,342.81 L224.65,348.81 L226.55,352.79 L239.15,346.79 Z" fill="#fff" stroke="#1c1c1c" stroke-width="1.15" stroke-linecap="round" stroke-linejoin="round" />
<path d="M233.05,344.81 L234.95,348.79" fill="none" stroke="#1c1c1c" stroke-width="1.03" stroke-linecap="round" stroke-linejoin="round" />
<path d="M228.85,346.81 L230.75,350.79" fill="none" stroke="#1c1c1c" stroke-width="1.03" stroke-linecap="round" stroke-linejoin="round" />
<ellipse cx="239.2834326225887" cy="344.2840797035292" rx="1.4" ry="1.584" fill="#fff" stroke="#1c1c1c" stroke-width="1.15" transform="rotate(154.53665493812838 239.2834326225887 344.2840797035292)"/>
<path d="M181.77,430.94 L195.17,436.14 L196.83,431.86 L183.43,426.66 Z" fill="#fff" stroke="#1c1c1c" stroke-width="1.15" stroke-linecap="round" stroke-linejoin="round" />
<path d="M186.23,432.68 L187.90,428.39" fill="none" stroke="#1c1c1c" stroke-width="1.03" stroke-linecap="round" stroke-linejoin="round" />
<path d="M190.70,434.41 L192.37,430.12" fill="none" stroke="#1c1c1c" stroke-width="1.03" stroke-linecap="round" stroke-linejoin="round" />
<ellipse cx="181.48128133037753" cy="428.3658703670122" rx="1.4" ry="1.656" fill="#fff" stroke="#1c1c1c" stroke-width="1.15" transform="rotate(21.20922613422275 181.48128133037753 428.3658703670122)"/>
<path d="M49.64,338.69 L65.89,335.47 L65.31,332.53 L49.06,335.74 Z" fill="#fff" stroke="#1c1c1c" stroke-width="1.15" stroke-linecap="round" stroke-linejoin="round" />
<path d="M58.44,336.95 L57.86,334.00" fill="none" stroke="#1c1c1c" stroke-width="0.92" stroke-linecap="round" stroke-linejoin="round" />
<path d="M61.42,336.36 L60.84,333.41" fill="none" stroke="#1c1c1c" stroke-width="0.92" stroke-linecap="round" stroke-linejoin="round" />
<path d="M64.40,335.77 L63.82,332.82" fill="none" stroke="#1c1c1c" stroke-width="0.92" stroke-linecap="round" stroke-linejoin="round" />
<ellipse cx="48.71999812769743" cy="337.3408337038932" rx="1.935" ry="4.386" fill="#fff" stroke="#1c1c1c" stroke-width="1.15" transform="rotate(-11.195111426300013 48.71999812769743 337.3408337038932)"/>
<ellipse cx="46.20380565516301" cy="337.838830130749" rx="3.44" ry="4.2139999999999995" fill="#fff" stroke="#1c1c1c" stroke-width="1.15" transform="rotate(-11.195111426300013 46.20380565516301 337.838830130749)"/>
<ellipse cx="45.41902827581504" cy="337.99415065374495" rx="1.8059999999999998" ry="2.365" fill="#fff" stroke="#1c1c1c" stroke-width="0.92" transform="rotate(-11.195111426300013 45.41902827581504 337.99415065374495)"/>
<path d="M45.61,333.79 L45.00,335.89 M47.19,341.81 L45.84,340.10" fill="none" stroke="#1c1c1c" stroke-width="0.8" stroke-linecap="round" stroke-linejoin="round" />
<path d="M65.6,334 L78,331.8 M75.0,332.8 L81.1,330.8 L93.4,330.3 M79.6,332.8 L84.7,335.4 L96.9,332.8" fill="none" stroke="#1c1c1c" stroke-width="1.03" stroke-linecap="round" stroke-linejoin="round" />
<path d="M85.7,307.8 L87.8,306.3 L93.2,313.6 L90.5,315.3 Z" fill="#fff" stroke="#1c1c1c" stroke-width="1.15" stroke-linecap="round" stroke-linejoin="round" />
<path d="M86.4,309.1 L88.7,307.5" fill="none" stroke="#1c1c1c" stroke-width="0.92" stroke-linecap="round" stroke-linejoin="round" />
<path d="M92.1,306.3 L90.3,313.9 L89.3,317.5 L90.3,320.6 L93.4,321.6 L93.9,327.7 L96.9,330.8 L98.5,330.3 L98.3,324.7 L100.5,324.4 L101.0,331.8 L103.1,335.4 L105.6,334.9 L107.7,331.3 L108.7,317.5 L105.6,315.3 L101.7,312.4 L100.5,307.3 Z" fill="#fff" stroke="#1c1c1c" stroke-width="1.15" stroke-linecap="round" stroke-linejoin="round" />
<path d="M90.3,317.5 Q92.3,315.7 100.5,313.9 L105.6,315.5 M93.4,321.6 Q95.4,320.6 98.3,324.7 M103.1,335.4 L102.8,332.3 L104.6,331.8 M105.6,334.9 L105.4,332.0" fill="none" stroke="#1c1c1c" stroke-width="0.98" stroke-linecap="round" stroke-linejoin="round" />
<path d="M107.9,317.1 L123.0,322.2 L119.1,331.4 L105.6,326.9 Q104.6,321.6 107.9,317.1 Z" fill="#fff" stroke="#1c1c1c" stroke-width="1.15" stroke-linecap="round" stroke-linejoin="round" />
<path d="M107.9,317.1 Q110.2,322.1 107.4,327.3 M111.7,318.3 Q113.8,323.1 110.9,328.5 M115.6,319.8 Q117.7,324.7 115.0,330.0" fill="none" stroke="#1c1c1c" stroke-width="0.98" stroke-linecap="round" stroke-linejoin="round" />
<ellipse cx="121.4" cy="326.7" rx="3.3" ry="4.7" fill="#fff" stroke="#1c1c1c" stroke-width="1.15" transform="rotate(18 121.4 326.7)"/>
<ellipse cx="121.9" cy="327" rx="1.5" ry="2.1" fill="none" stroke="#1c1c1c" stroke-width="0.98" transform="rotate(18 121.9 327)"/>
<path d="M125,325.6 L143.4,322.6 M125.2,328.4 L143.6,325.2" fill="none" stroke="#1c1c1c" stroke-width="1.09" stroke-linecap="round" stroke-linejoin="round" />
<path d="M92.6,298.1 L91.8,306.3 Q95.4,308.3 100.5,307.3 L100.5,302.2 L100.3,298.1 Z" fill="#fff" stroke="#1c1c1c" stroke-width="1.15" stroke-linecap="round" stroke-linejoin="round" />
<path d="M92.4,300.2 Q96.4,302.0 100.4,300.2" fill="none" stroke="#1c1c1c" stroke-width="0.98" stroke-linecap="round" stroke-linejoin="round" />
<ellipse cx="96.4" cy="297.8" rx="3.8" ry="1.6" fill="#fff" stroke="#1c1c1c" stroke-width="1.15" transform="rotate(0 96.4 297.8)"/>
<ellipse cx="96.4" cy="297.9" rx="2" ry="0.7" fill="none" stroke="#1c1c1c" stroke-width="0.69" transform="rotate(0 96.4 297.9)"/>
<path d="M99.0,302.5 L103.1,302.2 L103.1,308.1 L99.0,307.8 Z" fill="#fff" stroke="#1c1c1c" stroke-width="1.03" stroke-linecap="round" stroke-linejoin="round" />
<ellipse cx="103" cy="305.3" rx="2.2" ry="2.95" fill="#fff" stroke="#1c1c1c" stroke-width="1.15" transform="rotate(0 103 305.3)"/>
<ellipse cx="103.3" cy="305.4" rx="1.2" ry="1.8" fill="none" stroke="#1c1c1c" stroke-width="0.8" transform="rotate(0 103.3 305.4)"/>
<path d="M162.6,353.8 V369.6 H165.79999999999998 V353.8 Z" fill="#fff" stroke="#1c1c1c" stroke-width="1.15" stroke-linecap="round" stroke-linejoin="round" />
<path d="M162.6,367.6 H165.79999999999998" fill="none" stroke="#1c1c1c" stroke-width="0.92" stroke-linecap="round" stroke-linejoin="round" />
<path d="M162.6,365.20000000000005 H165.79999999999998" fill="none" stroke="#1c1c1c" stroke-width="0.92" stroke-linecap="round" stroke-linejoin="round" />
<path d="M162.6,362.8 H165.79999999999998" fill="none" stroke="#1c1c1c" stroke-width="0.92" stroke-linecap="round" stroke-linejoin="round" />
<path d="M162.6,360.40000000000003 H165.79999999999998" fill="none" stroke="#1c1c1c" stroke-width="0.92" stroke-linecap="round" stroke-linejoin="round" />
<ellipse cx="164.2" cy="354.0" rx="4.8" ry="1.7" fill="#fff" stroke="#1c1c1c" stroke-width="1.15" transform="rotate(0 164.2 354.0)"/>
<path d="M160.89999999999998,349.8 L160.6,353.40000000000003 Q164.2,355.2 167.79999999999998,353.40000000000003 L167.5,349.8 Q164.2,347.6 160.89999999999998,349.8 Z" fill="#fff" stroke="#1c1c1c" stroke-width="1.15" stroke-linecap="round" stroke-linejoin="round" />
<path d="M162.89999999999998,349.0 V354.0 M165.5,349.0 V354.0" fill="none" stroke="#1c1c1c" stroke-width="0.8" stroke-linecap="round" stroke-linejoin="round" />
<path d="M164.2,369.6 V381" fill="none" stroke="#1c1c1c" stroke-width="1.03" stroke-linecap="round" stroke-linejoin="round" />
<path d="M164,381.4 V402" fill="none" stroke="#1c1c1c" stroke-width="1.15" stroke-dasharray="8 3"/>
<path d="M164,381.4 L176,386" fill="none" stroke="#1c1c1c" stroke-width="1.15" stroke-dasharray="6 2.5"/>
<path d="M176,386 V402" fill="none" stroke="#1c1c1c" stroke-width="1.03" stroke-linecap="round" stroke-linejoin="round" />
<path d="M133.4,391.6 Q135,389.2 137.8,389.8 L174,402.6 L171,416 L134.4,402.8 Q132.4,401.6 132.6,399 Z" fill="#fff" stroke="#1c1c1c" stroke-width="1.15" stroke-linecap="round" stroke-linejoin="round" />
<path d="M139.3,390.4 Q136.6,397 137.8,403.4 M146,392.4 Q143.2,399.4 143.8,405.6 M152.8,394.6 Q149.8,401.6 149.8,407.8" fill="none" stroke="#1c1c1c" stroke-width="1.03" stroke-linecap="round" stroke-linejoin="round" />
<ellipse cx="132.3" cy="394" rx="1.2" ry="2" fill="#fff" stroke="#1c1c1c" stroke-width="1.03" transform="rotate(15 132.3 394)"/>
<path d="M166.6,397 H175 V430.6 Q175,433.8 172,433.8 H169 Q166.6,433.8 166.6,431 Z" fill="#fff" stroke="#1c1c1c" stroke-width="1.15" stroke-linecap="round" stroke-linejoin="round" />
<path d="M168.8,413 V432" fill="none" stroke="#1c1c1c" stroke-width="0.92" stroke-linecap="round" stroke-linejoin="round" />
<path d="M162.4,401.6 L165.6,402.6 M161.8,403.4 L165,404.4" fill="none" stroke="#1c1c1c" stroke-width="0.92" stroke-linecap="round" stroke-linejoin="round" />
<path d="M167.6,397 V393.2 L167.4,392.4 L170.4,387.8 L173.4,392.4 L173.2,393.2 V397 Z" fill="#fff" stroke="#1c1c1c" stroke-width="1.15" stroke-linecap="round" stroke-linejoin="round" />
<path d="M167.6,393.2 H173.2 M169.6,391 H171.2" fill="none" stroke="#1c1c1c" stroke-width="0.92" stroke-linecap="round" stroke-linejoin="round" />
<ellipse cx="174.1" cy="409.2" rx="5.6" ry="7" fill="#fff" stroke="#1c1c1c" stroke-width="1.15" transform="rotate(12 174.1 409.2)"/>
<path d="M179,406.2 L180.8,406.8 L180.6,410.2 L179.2,410.6" fill="none" stroke="#1c1c1c" stroke-width="1.03" stroke-linecap="round" stroke-linejoin="round" />
<ellipse cx="174.6" cy="426.5" rx="3.7" ry="4" fill="#fff" stroke="#1c1c1c" stroke-width="1.15" transform="rotate(0 174.6 426.5)"/>
<ellipse cx="174.8" cy="426.5" rx="1.5" ry="1.9" fill="none" stroke="#1c1c1c" stroke-width="0.92" transform="rotate(0 174.8 426.5)"/>
<rect x="494.6" y="5.6" width="58.80" height="26.80" fill="#fff" stroke="#30379a" stroke-width="1.1"/>
<text transform="translate(524.40 17.40) scale(0.95 1)" text-anchor="middle" font-size="10.1" fill="#30379a" stroke="#30379a" stroke-width="0.22">12 ± 1 ft-lb</text>
<text transform="translate(524.40 28.80) scale(0.95 1)" text-anchor="middle" font-size="10.1" fill="#30379a" stroke="#30379a" stroke-width="0.22">(15 ± 2 Nm)</text>
<line x1="524.60" y1="32.40" x2="528.81" y2="40.34" stroke="#30379a" stroke-width="1.5"/>
<polygon points="531.80,46.00 525.95,40.72 530.72,38.20" fill="#30379a"/>
<rect x="92.2" y="96.4" width="72.20" height="27.40" fill="#fff" stroke="#30379a" stroke-width="1.1"/>
<text transform="translate(128.30 108.50) scale(0.95 1)" text-anchor="middle" font-size="10.1" fill="#30379a" stroke="#30379a" stroke-width="0.22">8.17 ± 0.67 ft-lb</text>
<text transform="translate(128.30 119.90) scale(0.95 1)" text-anchor="middle" font-size="10.1" fill="#30379a" stroke="#30379a" stroke-width="0.22">(11 ± 1 Nm)</text>
<line x1="128.00" y1="123.80" x2="182.59" y2="143.71" stroke="#30379a" stroke-width="1.5"/>
<polygon points="188.60,145.90 180.72,145.90 182.57,140.83" fill="#30379a"/>
<rect x="259.6" y="107.3" width="71.40" height="27.70" fill="#fff" stroke="#30379a" stroke-width="1.1"/>
<text transform="translate(295.30 119.55) scale(0.95 1)" text-anchor="middle" font-size="10.1" fill="#30379a" stroke="#30379a" stroke-width="0.22">3.67 ± 0.75 ft-lb</text>
<text transform="translate(295.30 130.95) scale(0.95 1)" text-anchor="middle" font-size="10.1" fill="#30379a" stroke="#30379a" stroke-width="0.22">(5.0 ± 1.0 Nm)</text>
<line x1="294.80" y1="135.00" x2="257.84" y2="167.01" stroke="#30379a" stroke-width="1.5"/>
<polygon points="253.00,171.20 256.83,164.31 260.36,168.40" fill="#30379a"/>
<rect x="436.6" y="132.8" width="40.20" height="15.60" fill="#fff" stroke="#30379a" stroke-width="1.1"/>
<text transform="translate(456.70 144.70) scale(0.95 1)" text-anchor="middle" font-size="10.1" fill="#30379a" stroke="#30379a" stroke-width="0.22">Grease</text>
<line x1="456.00" y1="148.40" x2="442.28" y2="163.64" stroke="#30379a" stroke-width="1.5"/>
<polygon points="438.00,168.40 440.94,161.09 444.96,164.71" fill="#30379a"/>
<rect x="374.2" y="249.4" width="71.60" height="27.20" fill="#fff" stroke="#30379a" stroke-width="1.1"/>
<text transform="translate(410.00 261.40) scale(0.95 1)" text-anchor="middle" font-size="10.1" fill="#30379a" stroke="#30379a" stroke-width="0.22">9.25 ± 1.83 ft-lb</text>
<text transform="translate(410.00 272.80) scale(0.95 1)" text-anchor="middle" font-size="10.1" fill="#30379a" stroke="#30379a" stroke-width="0.22">(13 ± 2 Nm)</text>
<line x1="410.40" y1="249.40" x2="436.23" y2="236.97" stroke="#30379a" stroke-width="1.5"/>
<polygon points="442.00,234.20 436.50,239.84 434.16,234.97" fill="#30379a"/>
<rect x="87" y="230" width="57.20" height="26.80" fill="#fff" stroke="#30379a" stroke-width="1.1"/>
<text transform="translate(115.60 241.80) scale(0.95 1)" text-anchor="middle" font-size="10.1" fill="#30379a" stroke="#30379a" stroke-width="0.22">14 ± 2 ft-lb</text>
<text transform="translate(115.60 253.20) scale(0.95 1)" text-anchor="middle" font-size="10.1" fill="#30379a" stroke="#30379a" stroke-width="0.22">(19 ± 3 Nm)</text>
<line x1="114.00" y1="256.80" x2="58.01" y2="326.51" stroke="#30379a" stroke-width="1.5"/>
<polygon points="54.00,331.50 56.53,324.04 60.74,327.42" fill="#30379a"/>
<line x1="114.00" y1="256.80" x2="158.90" y2="341.54" stroke="#30379a" stroke-width="1.5"/>
<polygon points="161.90,347.20 156.05,341.93 160.82,339.40" fill="#30379a"/>
<rect x="1.2" y="303.1" width="56.20" height="15.60" fill="#fff" stroke="#30379a" stroke-width="1.1"/>
<text transform="translate(29.30 315.00) scale(0.95 1)" text-anchor="middle" font-size="10.1" fill="#30379a" stroke="#30379a" stroke-width="0.22">2.4L Engine</text>
<rect x="32" y="427" width="79.30" height="16.00" fill="#fff" stroke="#30379a" stroke-width="1.1"/>
<text transform="translate(71.65 439.10) scale(0.95 1)" text-anchor="middle" font-size="10.1" fill="#30379a" stroke="#30379a" stroke-width="0.22">Release Cylinder</text>
<line x1="72.00" y1="427.00" x2="112.84" y2="341.57" stroke="#30379a" stroke-width="1.5"/>
<polygon points="115.60,335.80 114.84,343.64 109.97,341.31" fill="#30379a"/>
<line x1="72.00" y1="427.00" x2="141.22" y2="413.25" stroke="#30379a" stroke-width="1.5"/>
<polygon points="147.50,412.00 140.77,416.09 139.72,410.79" fill="#30379a"/>
<rect x="89.5" y="453.8" width="56.80" height="15.00" fill="#fff" stroke="#30379a" stroke-width="1.1"/>
<text transform="translate(117.90 465.40) scale(0.95 1)" text-anchor="middle" font-size="10.1" fill="#30379a" stroke="#30379a" stroke-width="0.22">3.0L Engine</text>
<line x1="118.80" y1="453.80" x2="151.65" y2="415.18" stroke="#30379a" stroke-width="1.5"/>
<polygon points="155.80,410.30 153.06,417.69 148.95,414.19" fill="#30379a"/>
</g>
</svg>
</body></html>
